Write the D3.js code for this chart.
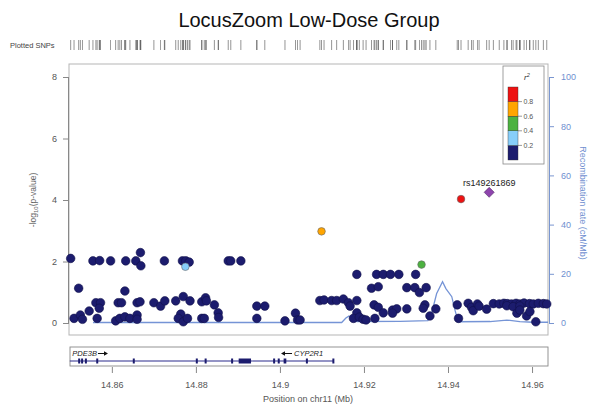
<!DOCTYPE html>
<html><head><meta charset="utf-8">
<script src="https://cdn.jsdelivr.net/npm/d3@7/dist/d3.min.js"></script>
<style>
body{margin:0;background:#fff;}
svg{display:block;font-family:"Liberation Sans",Arial,Helvetica,sans-serif;}
</style></head>
<body>
<svg id="chart" width="589" height="404"></svg>
<script>
// ---- data ----
const snpPos = [14.8502,14.8555,14.8571,14.8597,14.8633,14.8657,14.8668,14.8669,14.8725,14.8768,14.8776,14.8784,14.8775,14.8877,14.8883,14.8907,
 14.8521,14.8631,14.8546,14.8562,14.8573,14.8570,14.8565,14.8510,14.8525,14.8530,14.8615,14.8623,14.8609,14.8619,14.8631,14.8643,14.8660,14.8667,14.8660,14.8660,
 14.8700,14.8716,14.8726,14.8752,14.8770,14.8786,14.8764,14.8758,14.8770,14.8780,14.8814,14.8823,14.8825,14.8844,14.8853,14.8854,14.8814,14.8820,
 14.8945,14.8964,14.8945,14.9012,14.9037,14.9042,
 14.9099,14.9337,14.9048,14.9183,14.9230,14.9246,14.9263,14.9283,14.9323,14.9218,14.9234,14.9302,14.9321,14.9332,14.9348,
 14.9095,14.9105,14.9123,14.9135,14.9151,14.9163,14.9167,14.9183,14.9183,14.9175,14.9189,14.9198,14.9205,14.9224,14.9234,14.9246,14.9226,
 14.9268,14.9278,14.9268,14.9302,14.9345,14.9341,14.9357,14.9371,14.9422,14.9425,14.9448,14.9456,14.9460,14.9470,14.9474,14.9492,
 14.9508,14.9522,14.9533,14.9541,14.9551,14.9562,14.9571,14.9581,14.9594,14.9603,14.9615,14.9627,14.9635,
 14.9540,14.9555,14.9571,14.9564,14.9571,14.9587,14.9609,14.9595,
 14.9431];
const snpLogP = [2.10,2.02,2.03,2.02,2.02,2.02,2.29,1.86,2.02,2.02,2.02,1.98,1.83,2.02,2.02,2.02,
 1.13,1.04,0.39,0.66,0.66,0.48,0.15,0.15,0.26,0.12,0.66,0.66,0.07,0.15,0.20,0.15,0.66,0.69,0.26,0.12,
 0.66,0.55,0.72,0.72,0.86,0.72,0.29,0.15,0.04,0.15,0.69,0.82,0.72,0.59,0.33,0.18,0.15,0.15,
 0.55,0.55,0.15,0.07,0.32,0.10,
 2.98,1.90,0.10,1.58,1.58,1.58,1.58,1.58,1.58,1.13,1.18,1.15,1.15,0.99,1.15,
 0.73,0.75,0.73,0.73,0.78,0.66,0.55,0.73,0.33,0.15,0.19,0.12,0.10,0.59,0.51,0.33,0.15,
 0.42,0.46,0.32,0.46,0.59,0.48,0.23,0.46,0.59,0.15,0.64,0.51,0.40,0.62,0.55,0.45,
 0.63,0.62,0.64,0.63,0.62,0.64,0.62,0.65,0.63,0.62,0.64,0.63,0.62,
 0.56,0.53,0.55,0.32,0.42,0.23,0.04,0.37,
 4.03];
const snpR2 = snpPos.map((d,i)=> i===12 ? 0.3 : i===60 ? 0.7 : i===61 ? 0.5 : i===snpPos.length-1 ? 0.9 : 0.1);
const indexSnp = {name:"rs149261869", pos:14.9498, logp:4.25};

const recombPos  = [14.8555,14.9147,14.9157,14.9164,14.9171,14.9183,14.9286,14.9352,14.9361,14.9373,14.9387,14.9395,14.9409,14.9417,14.9424,14.9500,14.9540,14.9571,14.9602,14.9638];
const recombRate = [0.2,0.2,2.0,2.8,1.5,0.6,0.7,1.0,4.0,12.0,16.8,14.0,10.7,5.0,0.5,0.6,1.2,0.6,0.3,0.3];

const ldBreaks = [0.2,0.4,0.6,0.8];
const ldLabels = ["0.2","0.4","0.6","0.8"];
const ldColors = ["#1c1c6e","#87cefa","#4cb240","#ffa500","#ee1111"];

const leftTicks = [0,2,4,6,8];
const rightTicks = [0,20,40,60,80,100];
const xTicks = [14.86,14.88,14.90,14.92,14.94,14.96];

const genes = [
  {name:"PDE3B", start:14.8500, end:14.8935, strand:"+", labelPos:14.8506},
  {name:"CYP2R1", start:14.8935, end:14.9128, strand:"-", labelPos:14.9005}
];
const exonStarts = [14.8521,14.8528,14.8537,14.8564,14.8651,14.8801,14.8822,14.8885,14.8903,14.8985,14.8996,14.9010,14.9063,14.9126];
const exonEnds   = [14.8523,14.8530,14.8539,14.8566,14.8653,14.8803,14.8824,14.8887,14.8930,14.8987,14.8998,14.9014,14.9065,14.9128];

// ---- drawing ----
const svg = d3.select("#chart");
const L=69, R=548, T=64, B=335;
const x = d3.scaleLinear().domain([14.8498,14.9638]).range([L,R]);
const y = d3.scaleLinear().domain([0,8]).range([323,77]);
const yR = d3.scaleLinear().domain([0,100]).range([323,77]);
const ldColor = d3.scaleThreshold().domain(ldBreaks).range(ldColors);

// title
svg.append("text").attr("x",309).attr("y",27).attr("text-anchor","middle")
  .attr("font-size",20).attr("fill","#111").text("LocusZoom Low-Dose Group");

// plotted SNPs rug
svg.append("text").attr("x",10).attr("y",48).attr("font-size",7.5).attr("fill","#444").text("Plotted SNPs");
svg.append("g").selectAll("line").data(snpPos.concat([indexSnp.pos])).join("line")
  .attr("x1",d=>x(d)).attr("x2",d=>x(d)).attr("y1",40).attr("y2",50)
  .attr("stroke","#333").attr("stroke-width",0.8).attr("opacity",0.65);

// frame
svg.append("rect").attr("x",L).attr("y",T).attr("width",R-L).attr("height",B-T)
  .attr("fill","none").attr("stroke","#b5b5b5").attr("stroke-width",1);

// left axis
const gl = svg.append("g").attr("transform",`translate(${L},0)`)
  .call(d3.axisLeft(y).tickValues(leftTicks).tickSize(6).tickPadding(6));
gl.select(".domain").attr("stroke","#888").attr("d",`M-0.5,${y(8)}V${y(0)}`);
gl.selectAll(".tick line").attr("stroke","#888");
gl.selectAll(".tick text").attr("font-size",9).attr("fill","#555").attr("font-family","Liberation Sans, Arial, sans-serif");
svg.append("text").attr("transform",`translate(36,200) rotate(-90)`).attr("text-anchor","middle")
  .attr("font-size",8.5).attr("fill","#666")
  .html('-log<tspan font-size="6" dy="2">10</tspan><tspan dy="-2">(p-value)</tspan>');

// right axis
const gr = svg.append("g").attr("transform",`translate(${R+1},0)`)
  .call(d3.axisRight(yR).tickValues(rightTicks).tickSize(5).tickPadding(7));
gr.select(".domain").attr("stroke","#7a96d0").attr("d",`M0.5,${yR(100)}V${yR(0)}`);
gr.selectAll(".tick line").attr("stroke","#7a96d0");
gr.selectAll(".tick text").attr("font-size",9).attr("fill","#6f8fd0").attr("font-family","Liberation Sans, Arial, sans-serif");
svg.append("text").attr("transform",`translate(580,203) rotate(90)`).attr("text-anchor","middle")
  .attr("font-size",9).attr("fill","#6f8fd0").text("Recombination rate (cM/Mb)");

// recombination line
svg.append("path").datum(recombPos.map((d,i)=>[d,recombRate[i]]))
  .attr("d",d3.line().x(d=>x(d[0])).y(d=>yR(d[1])))
  .attr("fill","none").attr("stroke","#7594d6").attr("stroke-width",1.3);

// points
const pts = snpPos.map((d,i)=>({pos:d,logp:snpLogP[i],r2:snpR2[i]}));
pts.sort((a,b)=>a.r2-b.r2);
svg.append("g").selectAll("circle").data(pts).join("circle")
  .attr("cx",d=>x(d.pos)).attr("cy",d=>y(d.logp)).attr("r",d=>d.r2>0.2?3.8:4.3)
  .attr("fill",d=>ldColor(d.r2)).attr("stroke",d=>d.r2>0.2?"#666":"#10104a").attr("stroke-width",0.6);

// index SNP
const ix = x(indexSnp.pos), iy = y(indexSnp.logp);
svg.append("path").attr("d",`M${ix},${iy-5}L${ix+5},${iy}L${ix},${iy+5}L${ix-5},${iy}Z`)
  .attr("fill","#8e44ad").attr("stroke","#4a2060").attr("stroke-width",0.6);
svg.append("text").attr("x",ix).attr("y",iy-6).attr("text-anchor","middle")
  .attr("font-size",9).attr("fill","#222").text(indexSnp.name);

// legend
const lg = svg.append("g");
lg.append("rect").attr("x",503).attr("y",66).attr("width",41).attr("height",98)
  .attr("fill","#fff").attr("stroke","#888").attr("stroke-width",0.8);
lg.append("text").attr("x",524).attr("y",80).attr("font-size",8).attr("font-style","italic").attr("fill","#333")
  .html('r<tspan font-size="5.5" dy="-3">2</tspan>');
const ly = d3.scaleLinear().domain([0,1]).range([160,87]);
const bins = [0,0.2,0.4,0.6,0.8];
lg.selectAll("rect.bin").data(bins).join("rect").attr("class","bin")
  .attr("x",508).attr("width",10).attr("y",d=>ly(d+0.2)).attr("height",d=>ly(d)-ly(d+0.2))
  .attr("fill",(d,i)=>ldColors[i]).attr("stroke","#333").attr("stroke-width",0.4);
lg.selectAll("line.lt").data(ldBreaks).join("line").attr("class","lt")
  .attr("x1",518).attr("x2",522).attr("y1",d=>ly(d)).attr("y2",d=>ly(d)).attr("stroke","#555").attr("stroke-width",0.6);
lg.selectAll("text.ll").data(ldBreaks).join("text").attr("class","ll")
  .attr("x",523.5).attr("y",d=>ly(d)+2.5).attr("font-size",7).attr("fill","#555")
  .text((d,i)=>ldLabels[i]);

// gene track
svg.append("rect").attr("x",70).attr("y",347).attr("width",478).attr("height",19)
  .attr("fill","#fff").attr("stroke","#888").attr("stroke-width",0.9);
svg.append("g").selectAll("line").data(genes).join("line")
  .attr("x1",d=>x(d.start)).attr("x2",d=>x(d.end)).attr("y1",361).attr("y2",361)
  .attr("stroke","#2a2a8c").attr("stroke-width",1);
svg.append("g").selectAll("rect").data(exonStarts).join("rect")
  .attr("x",d=>x(d)-0.5).attr("width",(d,i)=>Math.max(2,x(exonEnds[i])-x(d)+1))
  .attr("y",358.5).attr("height",5).attr("fill","#1c1c6e");
// gene labels with arrows
genes.forEach(g=>{
  const gx = x(g.labelPos);
  if(g.strand==="+"){
    const t = svg.append("text").attr("x",gx).attr("y",356).attr("font-size",7.5).attr("font-style","italic").attr("fill","#222").text(g.name);
    const w = t.node().getComputedTextLength();
    svg.append("line").attr("x1",gx+w+1).attr("x2",gx+w+9).attr("y1",353.5).attr("y2",353.5).attr("stroke","#111").attr("stroke-width",1);
    svg.append("path").attr("d",`M${gx+w+11},353.5L${gx+w+7},351.3L${gx+w+7},355.7Z`).attr("fill","#111");
  } else {
    svg.append("line").attr("x1",gx+1).attr("x2",gx+10).attr("y1",353.5).attr("y2",353.5).attr("stroke","#111").attr("stroke-width",1);
    svg.append("path").attr("d",`M${gx-1},353.5L${gx+3},351.3L${gx+3},355.7Z`).attr("fill","#111");
    svg.append("text").attr("x",gx+12).attr("y",356).attr("font-size",7.5).attr("font-style","italic").attr("fill","#222").text(g.name);
  }
});

// x axis
const gx = svg.append("g").attr("transform","translate(0,367)")
  .call(d3.axisBottom(x).tickValues(xTicks).tickSize(6).tickPadding(9).tickFormat(d=>String(+d.toFixed(2))));
gx.select(".domain").remove();
gx.selectAll(".tick line").attr("stroke","#888");
gx.selectAll(".tick text").attr("font-size",9).attr("fill","#555").attr("font-family","Liberation Sans, Arial, sans-serif");
svg.append("text").attr("x",308).attr("y",402).attr("text-anchor","middle").attr("font-size",9).attr("fill","#555").text("Position on chr11 (Mb)");
</script>
</body></html>
